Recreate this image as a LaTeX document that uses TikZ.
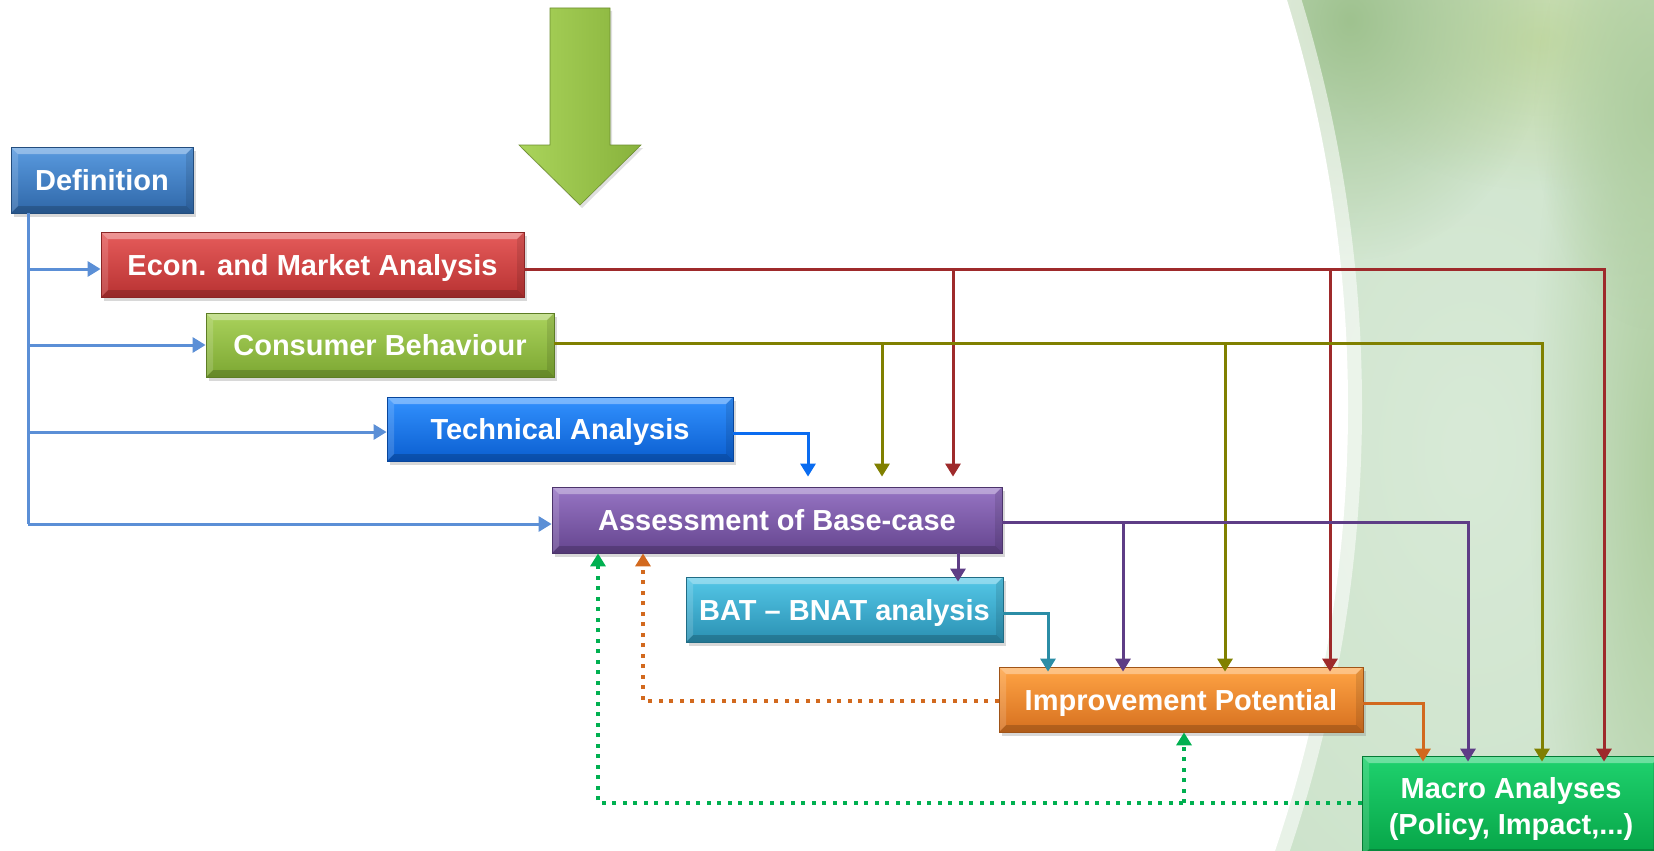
\documentclass[tikz,border=0pt]{standalone}
\usepackage{fontspec}
\setmainfont{Liberation Sans}
\usetikzlibrary{arrows.meta,shadows,calc,fadings}
\definecolor{bgbase}{HTML}{CDE3CB}
\definecolor{bgdark}{HTML}{9FC28F}
\definecolor{bgmid}{HTML}{AECD9F}
\definecolor{bgyel}{HTML}{C2D9A4}
\definecolor{bglight}{HTML}{D8EAD7}
\definecolor{cTrunk}{HTML}{5B8FD6}
\definecolor{cTech}{HTML}{0A6CF0}
\definecolor{cRed}{HTML}{9E2A2B}
\definecolor{cOlive}{HTML}{808000}
\definecolor{cPurple}{HTML}{5E3D86}
\definecolor{cTeal}{HTML}{2B8DA6}
\definecolor{cOrange}{HTML}{D2691E}
\definecolor{cGreen}{HTML}{00B050}
\definecolor{arrowA}{HTML}{AAD45B}
\definecolor{arrowB}{HTML}{88B23C}
\definecolor{defT}{HTML}{5A9BE0}\definecolor{defB}{HTML}{2F67A8}
\definecolor{ecoT}{HTML}{E65C5B}\definecolor{ecoB}{HTML}{B83232}
\definecolor{conT}{HTML}{AAD25C}\definecolor{conB}{HTML}{7CA732}
\definecolor{tecT}{HTML}{3392FF}\definecolor{tecB}{HTML}{0A5ED0}
\definecolor{ascT}{HTML}{9775C4}\definecolor{ascB}{HTML}{65458F}
\definecolor{batT}{HTML}{55C8E8}\definecolor{batB}{HTML}{2A90B2}
\definecolor{impT}{HTML}{FFA445}\definecolor{impB}{HTML}{D6701F}
\definecolor{macT}{HTML}{1FD26E}\definecolor{macB}{HTML}{06A447}
\tikzfading[name=softblob, inner color=transparent!0, outer color=transparent!100]
\newcommand{\boxfont}{\fontsize{29}{36}\selectfont\bfseries}
\tikzset{
  bevel/.style={path picture={
    \fill[white,opacity=0.35] (path picture bounding box.north west) -- (path picture bounding box.north east)
      -- ([xshift=-7pt,yshift=-7pt]path picture bounding box.north east) -- ([xshift=7pt,yshift=-7pt]path picture bounding box.north west) -- cycle;
    \fill[black,opacity=0.18] (path picture bounding box.south west) -- (path picture bounding box.south east)
      -- ([xshift=-7pt,yshift=7pt]path picture bounding box.south east) -- ([xshift=7pt,yshift=7pt]path picture bounding box.south west) -- cycle;
    \fill[white,opacity=0.15] (path picture bounding box.north west) -- ([xshift=7pt,yshift=-7pt]path picture bounding box.north west)
      -- ([xshift=7pt,yshift=7pt]path picture bounding box.south west) -- (path picture bounding box.south west) -- cycle;
    \fill[black,opacity=0.1] (path picture bounding box.north east) -- ([xshift=-7pt,yshift=-7pt]path picture bounding box.north east)
      -- ([xshift=-7pt,yshift=7pt]path picture bounding box.south east) -- (path picture bounding box.south east) -- cycle;
  }},
  stagebox/.style 2 args={rectangle, top color=#1, bottom color=#2, draw=#2!75!black, line width=0.8pt,
    text=white, font=\boxfont, inner sep=0pt, align=center, bevel, text height=21pt, text depth=0pt,
    drop shadow={shadow xshift=3pt, shadow yshift=-4pt, opacity=0.3}},
  conn/.style={line width=3pt, -{Triangle[width=15pt,length=13pt]}},
  dotconn/.style={line width=4pt, dash pattern=on 4pt off 6.5pt, -{Triangle[width=15pt,length=13pt]}},
}
\begin{document}
\begin{tikzpicture}[x=1pt,y=-1pt]
\useasboundingbox (0,0) rectangle (1654,851);
% ---------- background ----------
\begin{scope}
\clip (0,0) rectangle (1654,851);
\fill[bgbase] (0,0) rectangle (1654,851);
\fill[bglight, path fading=softblob] (1470,450) ellipse [x radius=320, y radius=520];
\fill[bgyel, path fading=softblob] (1540,40) ellipse [x radius=220, y radius=150];
\fill[bgdark, path fading=softblob] (1350,20) ellipse [x radius=200, y radius=240];
\fill[bgmid, path fading=softblob] (1660,470) ellipse [x radius=130, y radius=620];
\fill[bgmid, path fading=softblob] (1654,110) ellipse [x radius=120, y radius=220];
\fill[white,opacity=0.55] (0,407) ellipse [x radius=1362, y radius=1378];
\fill[white] (0,407) ellipse [x radius=1348, y radius=1364];
\end{scope}
% ---------- big arrow ----------
\shade[left color=arrowA, right color=arrowB, draw=arrowB!80!black, line width=0.6pt,
  drop shadow={shadow xshift=2pt, shadow yshift=-3pt, opacity=0.25}]
  (550,8) -- (610,8) -- (610,145) -- (641,145) -- (580,205) -- (519,145) -- (550,145) -- cycle;
% ---------- boxes ----------
\node[stagebox={defT}{defB}, minimum width=182pt, minimum height=66pt] (def) at (102,180) {Definition};
\node[stagebox={ecoT}{ecoB}, minimum width=423pt, minimum height=65pt] (econ) at (312.5,264.5) {Econ. and Market Analysis};
\node[stagebox={conT}{conB}, minimum width=348pt, minimum height=64pt] (cons) at (380,345) {Consumer Behaviour};
\node[stagebox={tecT}{tecB}, minimum width=346pt, minimum height=64pt] (tech) at (560,429) {Technical Analysis};
\node[stagebox={ascT}{ascB}, minimum width=450pt, minimum height=66pt] (assess) at (777,520) {Assessment of Base-case};
\node[stagebox={batT}{batB}, minimum width=317pt, minimum height=65pt] (bat) at (844.5,609.5) {BAT -- BNAT analysis};
\node[stagebox={impT}{impB}, minimum width=364pt, minimum height=65pt] (imp) at (1181,699.5) {Improvement Potential};
\node[stagebox={macT}{macB}, minimum width=298pt, minimum height=100pt, text height=57pt, text depth=0pt] (macro) at (1511,806) {Macro Analyses\\(Policy, Impact,...)};
% ---------- drop coordinates ----------
\coordinate (xT) at (28,0);
\coordinate (xTech) at (808,0);
\coordinate (xR1) at (953,0);
\coordinate (xR2) at (1330,0);
\coordinate (xR3) at (1604,0);
\coordinate (xO1) at (882,0);
\coordinate (xO2) at (1225,0);
\coordinate (xO3) at (1542,0);
\coordinate (xP0) at (958,0);
\coordinate (xP1) at (1123,0);
\coordinate (xP2) at (1468,0);
\coordinate (xB) at (1048,0);
\coordinate (xI) at (1423,0);
\coordinate (xDO) at (643,0);
\coordinate (xDG) at (598,0);
\coordinate (xDG2) at (1184,0);
% ---------- connectors ----------
\draw[cTrunk, line width=3pt] (def.south -| xT) -- ([yshift=-4pt]assess.west -| xT);
\draw[conn, cTrunk] ([yshift=-4.5pt]econ.west -| xT) -- ([yshift=-4.5pt]econ.west);
\draw[conn, cTrunk] (cons.west -| xT) -- (cons.west);
\draw[conn, cTrunk] ([yshift=-3pt]tech.west -| xT) -- ([yshift=-3pt]tech.west);
\draw[conn, cTrunk] ([yshift=-4pt]assess.west -| xT) -- ([yshift=-4pt]assess.west);
\draw[conn, cTech, shorten >=10pt] ([yshift=-4pt]tech.east) -| (assess.north -| xTech);
% red
\draw[conn, cRed, shorten >=-6pt] ([yshift=-4.5pt]econ.east) -| (macro.north -| xR3);
\draw[conn, cRed, shorten >=10pt] ([yshift=-4.5pt]econ.east -| xR1) -- (assess.north -| xR1);
\draw[conn, cRed, shorten >=-5pt] ([yshift=-4.5pt]econ.east -| xR2) -- (imp.north -| xR2);
% olive
\draw[conn, cOlive, shorten >=-6pt] ([yshift=2pt]cons.east) -| (macro.north -| xO3);
\draw[conn, cOlive, shorten >=10pt] ([yshift=2pt]cons.east -| xO1) -- (assess.north -| xO1);
\draw[conn, cOlive, shorten >=-5pt] ([yshift=2pt]cons.east -| xO2) -- (imp.north -| xO2);
% purple
\draw[conn, cPurple, shorten >=-6pt] ([yshift=-2pt]assess.east) -| (macro.north -| xP2);
\draw[conn, cPurple, shorten >=-5pt] ([yshift=-2pt]assess.east -| xP1) -- (imp.north -| xP1);
\draw[conn, cPurple, shorten >=-5pt] (assess.south -| xP0) -- (bat.north -| xP0);
% teal
\draw[conn, cTeal, shorten >=-5pt] ([yshift=-3.5pt]bat.east) -| (imp.north -| xB);
% orange
\draw[conn, cOrange, shorten >=-6pt] ([yshift=-4pt]imp.east) -| (macro.north -| xI);
% dotted feedback
\draw[dotconn, cOrange] ([yshift=-1.5pt]imp.west) -| (assess.south -| xDO);
\draw[dotconn, cGreen] ([yshift=3pt]macro.west) -| (assess.south -| xDG);
\draw[dotconn, cGreen] ([yshift=3pt]macro.west -| xDG2) -- (imp.south -| xDG2);
\end{tikzpicture}
\end{document}
